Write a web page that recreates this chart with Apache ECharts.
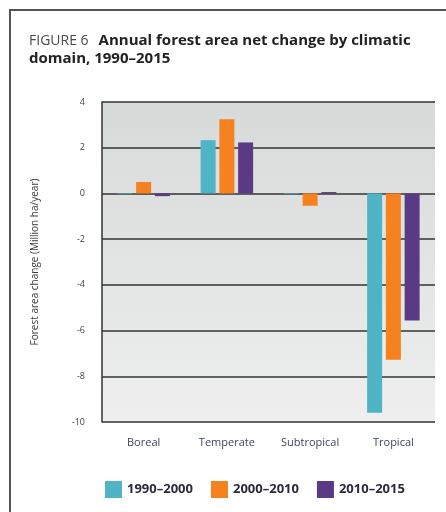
<!DOCTYPE html>
<html>
<head>
<meta charset="utf-8">
<script src="https://cdn.jsdelivr.net/npm/echarts@6/dist/echarts.min.js"></script>
<style>
  html, body { margin: 0; padding: 0; background: #fff; }
  #chart { width: 446px; height: 512px; }
</style>
</head>
<body>
<div id="chart"></div>
<script>
  // data
  var categories = ['Boreal', 'Temperate', 'Subtropical', 'Tropical'];
  var seriesNames = ['1990–2000', '2000–2010', '2010–2015'];
  var values1990 = [-0.03, 2.33, -0.03, -9.6];
  var values2000 = [0.5, 3.25, -0.54, -7.28];
  var values2010 = [-0.12, 2.23, 0.06, -5.56];
  var yTicks = { min: -10, max: 4, interval: 2 };

  var colors = ['#4fb5c4', '#f5821f', '#5a3a85'];
  var font = '"Open Sans", "Noto Sans", sans-serif';

  var myChart = echarts.init(document.getElementById('chart'));

  function bar(name, data, color) {
    return {
      name: name,
      type: 'bar',
      barWidth: 15,
      barGap: '25%',
      itemStyle: { color: color },
      data: data
    };
  }

  var option = {
    animation: false,
    color: colors,
    title: {
      left: 24,
      top: 27,
      text: '{a|FIGURE 6}  {b|Annual forest area net change by climatic}\n{b|domain, 1990–2015}',
      textStyle: {
        rich: {
          a: { fontFamily: font, fontSize: 14, color: '#4a4a4a', fontWeight: 'normal', lineHeight: 18 },
          b: { fontFamily: font, fontSize: 15, color: '#222', fontWeight: 'bold', lineHeight: 18 }
        }
      }
    },
    legend: {
      bottom: 9,
      left: 100,
      itemWidth: 17,
      itemHeight: 17,
      itemGap: 18,
      icon: 'rect',
      textStyle: { fontFamily: font, fontSize: 13, fontWeight: 'bold', color: '#2a2a3a' },
      data: seriesNames
    },
    grid: {
      left: 102,
      right: 11,
      top: 102,
      bottom: 90,
      show: true,
      borderWidth: 0,
      backgroundColor: new echarts.graphic.LinearGradient(0, 0, 0, 1, [
        { offset: 0, color: '#d6dad9' },
        { offset: 1, color: '#eeefee' }
      ])
    },
    xAxis: {
      type: 'category',
      data: categories,
      position: 'bottom',
      axisLine: { show: false },
      axisTick: { show: false },
      axisLabel: { fontFamily: font, fontSize: 11, color: '#3c4660', margin: 15 }
    },
    yAxis: {
      type: 'value',
      min: yTicks.min,
      max: yTicks.max,
      interval: yTicks.interval,
      name: 'Forest area change (Million ha/year)',
      nameLocation: 'middle',
      nameGap: 62,
      nameTextStyle: { fontFamily: font, fontSize: 10, color: '#3a3a3a' },
      axisLine: { show: true, onZero: false, lineStyle: { color: '#333', width: 1.5 } },
      axisTick: { show: false },
      axisLabel: { fontFamily: font, fontSize: 9, color: '#444', margin: 17 },
      splitLine: { show: true, lineStyle: { color: '#333', width: 1.5 } }
    },
    graphic: [
      {
        type: 'rect',
        shape: { x: 10, y: 10, width: 460, height: 520 },
        style: { fill: 'none', stroke: '#555', lineWidth: 2 }
      }
    ],
    series: [
      bar(seriesNames[0], values1990, colors[0]),
      bar(seriesNames[1], values2000, colors[1]),
      bar(seriesNames[2], values2010, colors[2])
    ]
  };

  myChart.setOption(option);
</script>
</body>
</html>
